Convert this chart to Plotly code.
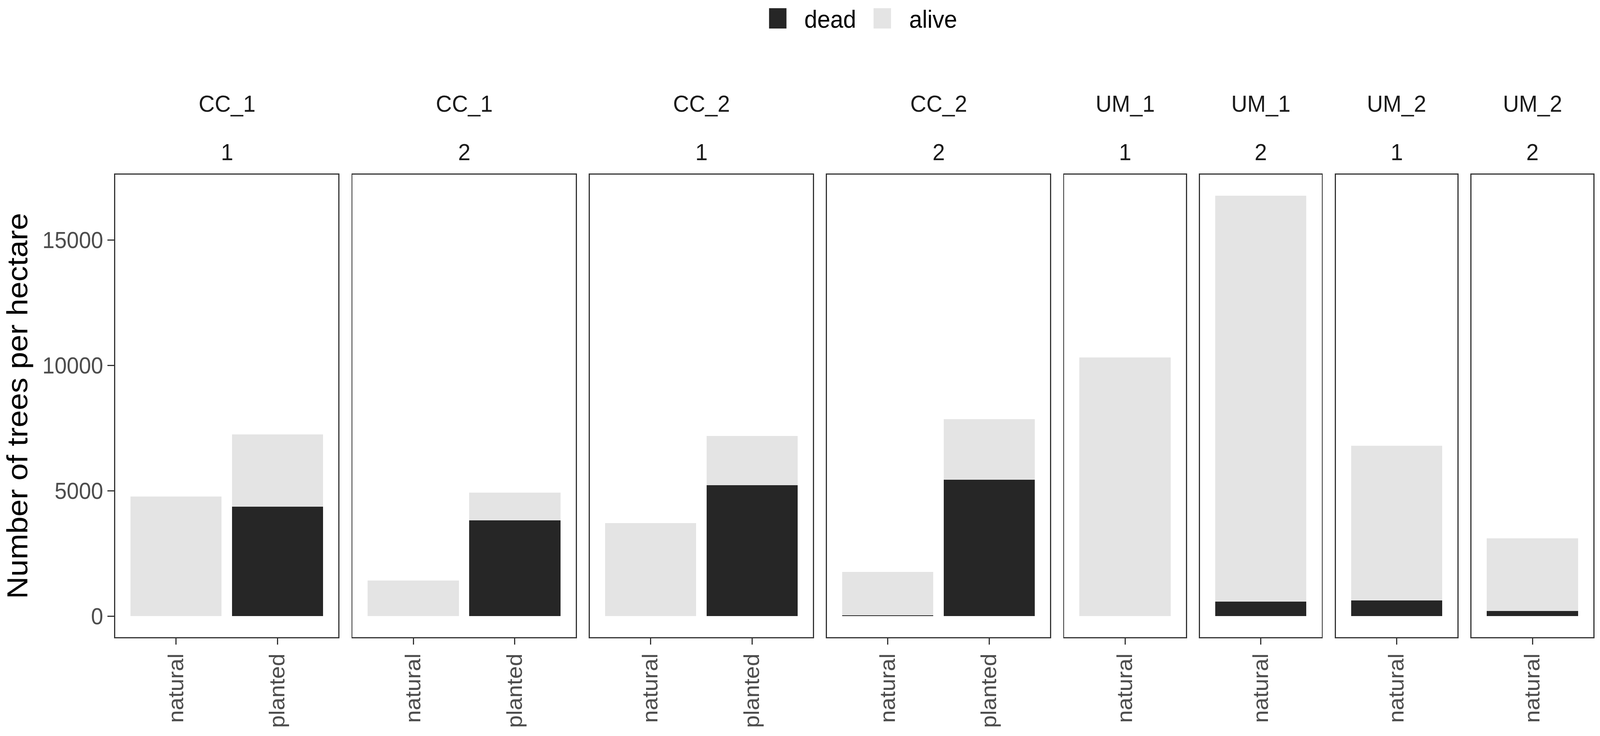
import plotly.graph_objects as go
from plotly.subplots import make_subplots

# facet labels (site on top, plot number below)
panel_site = ["CC_1", "CC_1", "CC_2", "CC_2", "UM_1", "UM_1", "UM_2", "UM_2"]
panel_plot = ["1", "2", "1", "2", "1", "2", "1", "2"]

# one entry per bar
bar_panel = [0, 0, 1, 1, 2, 2, 3, 3, 4, 5, 6, 7]
bar_origin = ["natural", "planted", "natural", "planted", "natural", "planted",
              "natural", "planted", "natural", "natural", "natural", "natural"]
dead = [0, 4360, 0, 3820, 0, 5220, 40, 5440, 0, 580, 620, 210]
alive = [4770, 2880, 1420, 1110, 3710, 1960, 1720, 2410, 10310, 16190, 6170, 2890]

y_ticks = [0, 5000, 10000, 15000]
y_title = "Number of trees per hectare"

DEAD_COL = "#262626"
ALIVE_COL = "#E4E4E4"
FONT = "Liberation Sans, Arial, sans-serif"

W, H = 4317, 1884
L, R, T, B = 311, 18, 447, 253
PW, PH = W - L - R, H - T - B


def px_x(px):
    return (px - L) / PW


def px_y(py):
    return (H - B - py) / PH


n_panels = len(panel_site)
n_cats = [bar_panel.count(p) for p in range(n_panels)]
widths = [n + 0.2 for n in n_cats]

fig = make_subplots(rows=1, cols=n_panels, column_widths=widths,
                    horizontal_spacing=38 / PW, shared_yaxes=True)

for p in range(n_panels):
    idx = [i for i, b in enumerate(bar_panel) if b == p]
    cats = [bar_origin[i] for i in idx]
    fig.add_trace(go.Bar(x=cats, y=[dead[i] for i in idx], name="dead",
                         marker=dict(color=DEAD_COL, line_width=0), width=0.9,
                         showlegend=False), row=1, col=p + 1)
    fig.add_trace(go.Bar(x=cats, y=[alive[i] for i in idx], name="alive",
                         marker=dict(color=ALIVE_COL, line_width=0), width=0.9,
                         showlegend=False), row=1, col=p + 1)
    fig.update_xaxes(type="category", range=[-0.6, n_cats[p] - 0.4],
                     showline=True, mirror=True, linecolor="#333333", linewidth=2.5,
                     ticks="outside", ticklen=16, tickwidth=3, tickcolor="#333333",
                     tickangle=-90, showgrid=False, zeroline=False,
                     tickfont=dict(family=FONT, size=58, color="#4D4D4D"),
                     row=1, col=p + 1)
    xref = f"x{p + 1 if p else ''} domain"
    fig.add_annotation(text=panel_site[p], xref=xref, x=0.5,
                       yref="paper", y=px_y(266), showarrow=False, yanchor="middle",
                       font=dict(family=FONT, size=60, color="#1A1A1A"))
    fig.add_annotation(text=panel_plot[p], xref=xref, x=0.5,
                       yref="paper", y=px_y(389), showarrow=False, yanchor="middle",
                       font=dict(family=FONT, size=60, color="#1A1A1A"))

ymax = max(d + a for d, a in zip(dead, alive))
fig.update_yaxes(range=[-0.05 * ymax, 1.05 * ymax], showline=True, mirror=True,
                 linecolor="#333333", linewidth=2.5, showgrid=False, zeroline=False,
                 ticks="", showticklabels=False)
fig.update_yaxes(row=1, col=1, ticks="outside", ticklen=18, tickwidth=3,
                 tickcolor="#333333", showticklabels=True, tickvals=y_ticks,
                 ticktext=[str(v) for v in y_ticks],
                 tickfont=dict(family=FONT, size=59, color="#4D4D4D"))

# y title as a rotated annotation, centred on the panels
fig.add_annotation(text=y_title, textangle=-90, xref="paper", yref="paper",
                   x=px_x(46), y=0.5, xanchor="center", yanchor="middle",
                   showarrow=False, font=dict(family=FONT, size=79, color="#000000"))

# legend drawn by hand so the keys match the text size
legend_items = [("dead", DEAD_COL, 2075, 2168), ("alive", ALIVE_COL, 2357, 2451)]
for label, col, kx, tx in legend_items:
    fig.add_shape(type="rect", xref="paper", yref="paper",
                  x0=px_x(kx), x1=px_x(kx + 47), y0=px_y(73), y1=px_y(21),
                  fillcolor=col, line_width=0)
    fig.add_annotation(text=label, xref="paper", yref="paper", x=px_x(tx), y=px_y(49),
                       xanchor="left", yanchor="middle", showarrow=False,
                       font=dict(family=FONT, size=63, color="#000000"))

fig.update_layout(width=W, height=H, barmode="stack", bargap=0,
                  margin=dict(l=L, r=R, t=T, b=B, autoexpand=False),
                  paper_bgcolor="white", plot_bgcolor="white", showlegend=False,
                  font=dict(family=FONT))

# the window may be narrower than the figure: stretch the page to fill it
fit = """
document.body.style.margin = '0';
document.body.style.overflow = 'hidden';
var gd = document.getElementById('{plot_id}');
gd.style.transformOrigin = '0 0';
gd.style.transform = 'scale(' + (window.innerWidth / %d) + ',' +
    (window.innerHeight / %d) + ')';
""" % (W, H)
fig.write_html("out.html", config={"displayModeBar": False}, post_script=fit)
